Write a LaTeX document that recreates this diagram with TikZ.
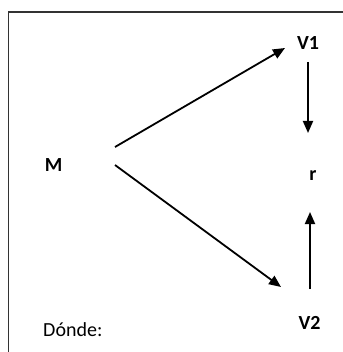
\documentclass[tikz,border=0pt]{standalone}
\usepackage{fontspec}
\setmainfont{Carlito}
\usetikzlibrary{arrows.meta}
\begin{document}
\begin{tikzpicture}[x=1pt,y=-1pt,
  lbl/.style={inner sep=0pt,font=\fontsize{20}{24}\selectfont\bfseries},
  plain/.style={inner sep=0pt,font=\fontsize{20}{24}\selectfont},
  conn/.style={line width=1.8pt,-{Triangle[length=12pt,width=10pt]}},
  frame/.style={line width=1.8pt,draw=black!80}]
\useasboundingbox (0,0) rectangle (342,352);
\draw[frame] (8.5,353) -- (8.5,12) -- (343,12);
\node[lbl] (M) at (53.5,165) {M};
\node[lbl] (V1) at (308,43) {V1};
\node[lbl] (r) at (313,175.5) {r};
\node[lbl] (V2) at (309.5,323) {V2};
\node[plain,anchor=base west] (D) at (43,336) {Dónde:};
\coordinate (m1) at (115,147);
\coordinate (m2) at (115,165);
\coordinate (v1in) at (285,48);
\coordinate (v2in) at (281,287);
\coordinate (v1out) at (308,62);
\coordinate (rtop) at (308,133);
\coordinate (v2out) at (310,289);
\coordinate (rbot) at (310,212);
\draw[conn] (m1) -- (v1in);
\draw[conn] (m2) -- (v2in);
\draw[conn] (v1out) -- (rtop);
\draw[conn] (v2out) -- (rbot);
\end{tikzpicture}
\end{document}
